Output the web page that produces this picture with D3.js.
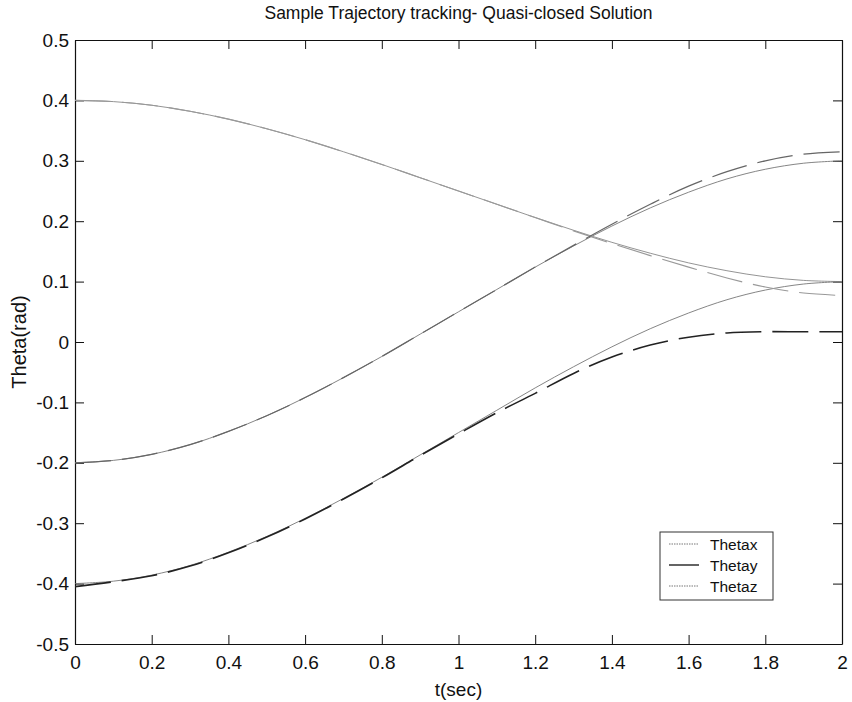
<!DOCTYPE html>
<html>
<head>
<meta charset="utf-8">
<script src="https://cdn.jsdelivr.net/npm/d3@7.9.0/dist/d3.min.js"></script>
<style>
  body { margin: 0; background: #fff; }
  svg { display: block; font-family: "Liberation Sans", Arial, sans-serif; }
</style>
</head>
<body>
<div id="chart"></div>
<script>
// time samples (sec)
const tValues = [0, 0.1, 0.2, 0.3, 0.4, 0.5, 0.6, 0.7, 0.8, 0.9, 1.0,
                 1.1, 1.2, 1.3, 1.4, 1.5, 1.6, 1.7, 1.8, 1.9, 2.0];

// desired trajectories
const thetaxRef = [0.400, 0.398, 0.392, 0.382, 0.369, 0.353, 0.335, 0.315, 0.294, 0.272, 0.250,
                   0.228, 0.206, 0.185, 0.165, 0.147, 0.131, 0.118, 0.108, 0.102, 0.100];
const thetayRef = [-0.200, -0.196, -0.186, -0.170, -0.148, -0.122, -0.092, -0.059, -0.024, 0.013, 0.050,
                   0.087, 0.124, 0.159, 0.192, 0.222, 0.248, 0.270, 0.286, 0.296, 0.300];
const thetazRef = [-0.400, -0.396, -0.386, -0.370, -0.348, -0.322, -0.292, -0.259, -0.224, -0.187, -0.150,
                   -0.113, -0.076, -0.041, -0.008, 0.022, 0.048, 0.070, 0.086, 0.096, 0.100];

// tracked trajectories
const thetaxAct = [0.400, 0.398, 0.392, 0.382, 0.369, 0.353, 0.335, 0.315, 0.294, 0.272, 0.250,
                   0.228, 0.206, 0.184, 0.163, 0.143, 0.124, 0.106, 0.091, 0.081, 0.077];
const thetayAct = [-0.200, -0.196, -0.186, -0.170, -0.148, -0.122, -0.092, -0.059, -0.024, 0.013, 0.050,
                   0.087, 0.124, 0.160, 0.195, 0.228, 0.258, 0.282, 0.300, 0.311, 0.315];
const thetazAct = [-0.405, -0.397, -0.387, -0.371, -0.349, -0.323, -0.293, -0.260, -0.225, -0.188, -0.152,
                   -0.117, -0.085, -0.052, -0.025, -0.005, 0.008, 0.015, 0.017, 0.017, 0.017];

const xTicks = [0, 0.2, 0.4, 0.6, 0.8, 1, 1.2, 1.4, 1.6, 1.8, 2];
const yTicks = [-0.5, -0.4, -0.3, -0.2, -0.1, 0, 0.1, 0.2, 0.3, 0.4, 0.5];
const legendLabels = ["Thetax", "Thetay", "Thetaz"];

const width = 852, height = 702;
const margin = { top: 40, right: 10, bottom: 58, left: 75 };

const svg = d3.select("#chart").append("svg")
  .attr("width", width)
  .attr("height", height);

const x = d3.scaleLinear().domain([0, 2]).range([margin.left, width - margin.right]);
const y = d3.scaleLinear().domain([-0.5, 0.5]).range([height - margin.bottom, margin.top]);

const tickFmt = d => d === 0 ? "0" : String(d);

// axes, ticks pointing inward, box style
svg.append("g")
  .attr("transform", `translate(0,${y(-0.5)})`)
  .call(d3.axisBottom(x).tickValues(xTicks).tickFormat(tickFmt).tickSizeInner(-9).tickSizeOuter(0).tickPadding(12))
  .call(g => g.selectAll("text").attr("font-size", 19).attr("fill", "#111"));
svg.append("g")
  .attr("transform", `translate(0,${y(0.5)})`)
  .call(d3.axisTop(x).tickValues(xTicks).tickFormat("").tickSizeInner(-9).tickSizeOuter(0));
svg.append("g")
  .attr("transform", `translate(${x(0)},0)`)
  .call(d3.axisLeft(y).tickValues(yTicks).tickFormat(tickFmt).tickSizeInner(-9).tickSizeOuter(0).tickPadding(6))
  .call(g => g.selectAll("text").attr("font-size", 19).attr("fill", "#111"));
svg.append("g")
  .attr("transform", `translate(${x(2)},0)`)
  .call(d3.axisRight(y).tickValues(yTicks).tickFormat("").tickSizeInner(-9).tickSizeOuter(0));

svg.selectAll(".domain").attr("stroke", "#111").attr("stroke-width", 1.2);
svg.selectAll(".tick line").attr("stroke", "#111");

// lines
const pts = vals => tValues.map((t, i) => [t, vals[i]]);
const line = d3.line().x(d => x(d[0])).y(d => y(d[1])).curve(d3.curveCatmullRom);

const series = [
  { vals: thetaxRef, stroke: "#888", width: 0.9, dash: null },
  { vals: thetayRef, stroke: "#777", width: 0.9, dash: null },
  { vals: thetazRef, stroke: "#777", width: 0.9, dash: null },
  { vals: thetaxAct, stroke: "#999", width: 1.1, dash: "36,11" },
  { vals: thetayAct, stroke: "#666", width: 1.2, dash: "36,11" },
  { vals: thetazAct, stroke: "#222", width: 1.6, dash: "36,11" },
];

svg.append("g").selectAll("path")
  .data(series)
  .join("path")
  .attr("d", d => line(pts(d.vals)))
  .attr("fill", "none")
  .attr("stroke", d => d.stroke)
  .attr("stroke-width", d => d.width)
  .attr("stroke-dasharray", d => d.dash);

// title and axis labels
svg.append("text")
  .attr("x", (x(0) + x(2)) / 2).attr("y", 19)
  .attr("text-anchor", "middle").attr("font-size", 17.5).attr("fill", "#111")
  .text("Sample Trajectory tracking- Quasi-closed Solution");
svg.append("text")
  .attr("x", (x(0) + x(2)) / 2).attr("y", 696)
  .attr("text-anchor", "middle").attr("font-size", 19).attr("fill", "#111")
  .text("t(sec)");
svg.append("text")
  .attr("transform", `translate(26,${y(0)}) rotate(-90)`)
  .attr("text-anchor", "middle").attr("font-size", 20).attr("fill", "#111")
  .text("Theta(rad)");

// legend
const legend = svg.append("g").attr("transform", "translate(660,532)");
legend.append("rect")
  .attr("width", 113).attr("height", 68)
  .attr("fill", "#fff").attr("stroke", "#333").attr("stroke-width", 1);
const legendStyles = [
  { stroke: "#777", width: 1, dash: "1.5,1" },
  { stroke: "#222", width: 1.4, dash: null },
  { stroke: "#777", width: 1, dash: "1.5,1" },
];
legendLabels.forEach((lab, i) => {
  const cy = 12 + i * 21;
  legend.append("line")
    .attr("x1", 9).attr("x2", 39).attr("y1", cy).attr("y2", cy)
    .attr("stroke", legendStyles[i].stroke)
    .attr("stroke-width", legendStyles[i].width)
    .attr("stroke-dasharray", legendStyles[i].dash);
  legend.append("text")
    .attr("x", 50).attr("y", cy + 5.5)
    .attr("font-size", 15.5).attr("fill", "#111")
    .text(lab);
});
</script>
</body>
</html>
